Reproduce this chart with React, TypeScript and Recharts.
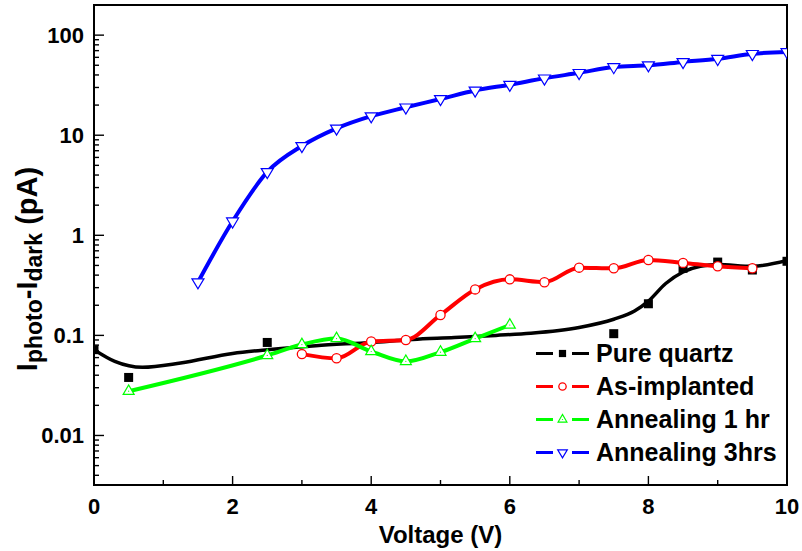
import React from 'react';
import { ComposedChart, Line, XAxis, YAxis, ReferenceArea, Legend } from 'recharts';

const FONT = '"Liberation Sans", Arial, Helvetica, sans-serif';

// ---- data ----
const pureQuartzV = [0, 0.5, 2.5, 7.5, 8, 8.5, 9, 9.5, 10];
const pureQuartzI = [0.072, 0.038, 0.085, 0.104, 0.207, 0.468, 0.54, 0.45, 0.55];

const pureQuartzFitV = [0, 0.3, 0.7, 1.25, 2, 2.5, 3.2, 4, 4.6, 5.2, 5.8, 6.3, 7, 7.5, 7.8, 8, 8.25, 8.5, 8.75, 9, 9.5, 10];
const pureQuartzFitI = [0.072, 0.055, 0.048, 0.053, 0.066, 0.072, 0.079, 0.085, 0.091, 0.095, 0.1, 0.105, 0.12, 0.145, 0.175, 0.22, 0.33, 0.43, 0.49, 0.51, 0.49, 0.56];

const asImplantedV = [3, 3.5, 4, 4.5, 5, 5.5, 6, 6.5, 7, 7.5, 8, 8.5, 9, 9.5];
const asImplantedI = [0.065, 0.059, 0.087, 0.09, 0.16, 0.288, 0.363, 0.34, 0.475, 0.468, 0.567, 0.53, 0.49, 0.468];

const anneal1V = [0.5, 2.5, 3, 3.5, 4, 4.5, 5, 5.5, 6];
const anneal1I = [0.0277, 0.063, 0.081, 0.093, 0.069, 0.055, 0.068, 0.093, 0.127];

const anneal3V = [1.5, 2, 2.5, 3, 3.5, 4, 4.5, 5, 5.5, 6, 6.5, 7, 7.5, 8, 8.5, 9, 9.5, 10];
const anneal3I = [0.34, 1.38, 4.3, 7.8, 11.7, 15.5, 19, 23, 28, 32, 37, 42, 48, 50, 54, 58, 65, 68];

const seriesNames = ['Pure quartz', 'As-implanted', 'Annealing 1 hr', 'Annealing 3hrs'];
const seriesColors = ['#000000', '#ff0000', '#00ff00', '#0000ff'];
const seriesMarkers = ['square', 'circle', 'triangle', 'triangleDown'];

const xTicks = [0, 1, 2, 3, 4, 5, 6, 7, 8, 9, 10];
const xLabelled = [0, 2, 4, 6, 8, 10];

const yTicks = [
  0.004, 0.005, 0.006, 0.007, 0.008, 0.009,
  0.01, 0.02, 0.03, 0.04, 0.05, 0.06, 0.07, 0.08, 0.09,
  0.1, 0.2, 0.3, 0.4, 0.5, 0.6, 0.7, 0.8, 0.9,
  1, 2, 3, 4, 5, 6, 7, 8, 9,
  10, 20, 30, 40, 50, 60, 70, 80, 90,
  100,
];
const yDecades = [0.01, 0.1, 1, 10, 100];
const yDecadeLabels = ['0.01', '0.1', '1', '10', '100'];

const toRows = (v: number[], i: number[]) => v.map((x, k) => ({ v: x, i: i[k] }));

const pqRows = toRows(pureQuartzV, pureQuartzI);
const pqFitRows = toRows(pureQuartzFitV, pureQuartzFitI);
const aiRows = toRows(asImplantedV, asImplantedI);
const a1Rows = toRows(anneal1V, anneal1I);
const a3Rows = toRows(anneal3V, anneal3I);

// ---- markers ----
function Marker({ kind, cx, cy, color, s = 1 }: any) {
  if (cx == null || cy == null) return null;
  if (kind === 'square') {
    const h = 4.5 * s;
    return <rect x={cx - h} y={cy - h} width={2 * h} height={2 * h} fill={color} />;
  }
  if (kind === 'circle') {
    return <circle cx={cx} cy={cy} r={4.6 * s} fill="#fff" stroke={color} strokeWidth={1.3} />;
  }
  if (kind === 'triangle') {
    const w = 5.5 * s;
    const h = 9.5 * s;
    return (
      <g>
        <polygon
          points={`${cx - w},${cy + h / 3} ${cx + w},${cy + h / 3} ${cx},${cy - (2 * h) / 3}`}
          fill="#fff"
          stroke={color}
          strokeWidth={1.2}
        />
        <circle cx={cx} cy={cy} r={0.6} fill={color} />
      </g>
    );
  }
  const w = 6 * s;
  const h = 10 * s;
  return (
    <polygon
      points={`${cx - w},${cy - h / 3} ${cx + w},${cy - h / 3} ${cx},${cy + (2 * h) / 3}`}
      fill="#fff"
      stroke={color}
      strokeWidth={1.2}
    />
  );
}

const makeDot = (kind: string, color: string) => (props: any) => (
  <Marker key={`${kind}-${props.index}`} kind={kind} cx={props.cx} cy={props.cy} color={color} />
);

// ---- ticks ----
function XTick(props: any) {
  const { x, y, payload } = props;
  const major = xLabelled.indexOf(payload.value) >= 0;
  return (
    <g>
      <line x1={x} x2={x} y1={y} y2={y - (major ? 9 : 5)} stroke="#000" strokeWidth={1.4} />
      {major && (
        <text x={x} y={y + 29} textAnchor="middle" fontFamily={FONT} fontWeight="bold" fontSize={22} fill="#000">
          {String(payload.value)}
        </text>
      )}
    </g>
  );
}

function YTick(props: any) {
  const { x, y, payload } = props;
  let idx = -1;
  yDecades.forEach((d, k) => {
    if (Math.abs(d - payload.value) / d < 1e-6) idx = k;
  });
  const major = idx >= 0;
  return (
    <g>
      <line x1={x} x2={x + (major ? 10 : 5)} y1={y} y2={y} stroke="#000" strokeWidth={1.4} />
      {major && (
        <text x={x - 10} y={y} dy="0.36em" textAnchor="end" fontFamily={FONT} fontWeight="bold" fontSize={22} fill="#000">
          {yDecadeLabels[idx]}
        </text>
      )}
    </g>
  );
}

function XTitle(props: any) {
  const vb = props.viewBox || { x: 94, y: 485, width: 693 };
  return (
    <text x={vb.x + vb.width / 2} y={vb.y + 58} textAnchor="middle" fontFamily={FONT} fontWeight="bold" fontSize={24} fill="#000">
      Voltage (V)
    </text>
  );
}

function YTitle(props: any) {
  const vb = props.viewBox || { x: 0, y: 5, width: 94, height: 480 };
  const x = vb.x + 37;
  const y = vb.y + 264;
  return (
    <text
      x={x}
      y={y}
      transform={`rotate(-90 ${x} ${y})`}
      textAnchor="middle"
      fontFamily={FONT}
      fontWeight="bold"
      fontSize={29}
      fill="#000"
    >
      <tspan>I</tspan>
      <tspan fontSize={23} dy={5}>photo</tspan>
      <tspan dy={-5}>-I</tspan>
      <tspan fontSize={23} dy={5}>dark</tspan>
      <tspan dy={-5}>{'\u00a0(pA)'}</tspan>
    </text>
  );
}

function LegendContent() {
  return (
    <div style={{ fontFamily: FONT, fontWeight: 'bold', fontSize: 25, color: '#000' }}>
      {seriesNames.map((name, k) => (
        <div key={name} style={{ display: 'flex', alignItems: 'center', height: 33, whiteSpace: 'nowrap' }}>
          <svg width={60} height={33} style={{ display: 'block' }}>
            <line x1={0} x2={17} y1={16.5} y2={16.5} stroke={seriesColors[k]} strokeWidth={3} />
            <line x1={36} x2={53} y1={16.5} y2={16.5} stroke={seriesColors[k]} strokeWidth={3} />
            <Marker kind={seriesMarkers[k]} cx={26.5} cy={16.5} color={seriesColors[k]} s={0.8} />
          </svg>
          <span style={{ lineHeight: '33px' }}>{name}</span>
        </div>
      ))}
    </div>
  );
}

export default function App() {
  return (
    <div style={{ position: 'absolute', left: 0, top: 0, width: 802, height: 551, background: '#fff' }}>
      <ComposedChart width={802} height={551} margin={{ top: 5, right: 15, bottom: 0, left: 0 }}>
        <XAxis
          type="number"
          dataKey="v"
          domain={[0, 10]}
          ticks={xTicks}
          interval={0}
          axisLine={false}
          tickLine={false}
          tickSize={0}
          tickMargin={0}
          tick={XTick}
          height={66}
          allowDataOverflow
          label={{ content: XTitle }}
        />
        <YAxis
          type="number"
          scale="log"
          domain={[0.0032, 200]}
          ticks={yTicks}
          interval={0}
          axisLine={false}
          tickLine={false}
          tickSize={0}
          tickMargin={0}
          tick={YTick}
          width={94}
          allowDataOverflow
          label={{ content: YTitle }}
        />
        <ReferenceArea x1={0} x2={10} y1={0.0032} y2={200} fill="none" stroke="#000" strokeWidth={2} ifOverflow="visible" />

        <Line data={pqFitRows} dataKey="i" type="monotone" stroke="#000" strokeWidth={3.5} dot={false} activeDot={false} isAnimationActive={false} legendType="none" />
        <Line data={pqRows} dataKey="i" stroke="none" dot={makeDot('square', '#000')} activeDot={false} isAnimationActive={false} legendType="none" />

        <Line data={aiRows} dataKey="i" type="monotone" stroke="#ff0000" strokeWidth={4} dot={makeDot('circle', '#ff0000')} activeDot={false} isAnimationActive={false} legendType="none" />

        <Line data={a1Rows} dataKey="i" type="monotone" stroke="#00ff00" strokeWidth={4} dot={makeDot('triangle', '#00ff00')} activeDot={false} isAnimationActive={false} legendType="none" />

        <Line data={a3Rows} dataKey="i" type="monotone" stroke="#0000ff" strokeWidth={4} dot={makeDot('triangleDown', '#0000ff')} activeDot={false} isAnimationActive={false} legendType="none" />

        <Legend
          content={LegendContent}
          layout="vertical"
          align="center"
          verticalAlign="middle"
          wrapperStyle={{ left: 536, top: 337, width: 260 }}
        />
      </ComposedChart>
    </div>
  );
}
